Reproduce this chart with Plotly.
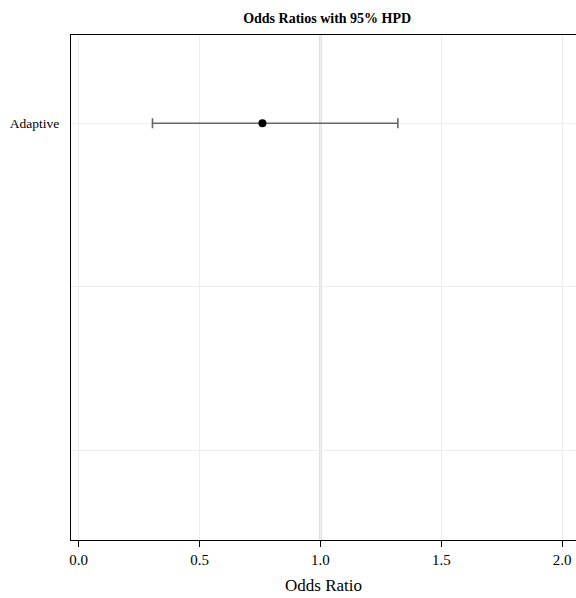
import plotly.graph_objects as go

# Data
categories = ["Adaptive"]
y_positions = [3]
odds_ratio = [0.76]
hpd_lower = [0.305]
hpd_upper = [1.32]
reference_value = 1.0
y_tick_positions = [1, 2, 3]
y_tick_labels = ["", "", "Adaptive"]
x_tick_values = [0.0, 0.5, 1.0, 1.5, 2.0]
x_tick_labels = ["0.0", "0.5", "1.0", "1.5", "2.0"]

FONT = "Liberation Serif, Times New Roman, serif"

fig = go.Figure()

fig.add_trace(go.Scatter(
    x=odds_ratio,
    y=y_positions,
    mode="markers",
    marker=dict(color="black", size=8),
    error_x=dict(
        type="data",
        symmetric=False,
        array=[u - m for u, m in zip(hpd_upper, odds_ratio)],
        arrayminus=[m - l for m, l in zip(odds_ratio, hpd_lower)],
        color="#666666",
        thickness=1.6,
        width=5,
    ),
    text=categories,
    showlegend=False,
))

fig.add_shape(
    type="line", xref="x", yref="paper",
    x0=reference_value, x1=reference_value, y0=0, y1=1,
    line=dict(color="#c4c4c4", width=2),
    layer="below",
)

fig.update_layout(
    width=576, height=598,
    margin=dict(l=71, r=0, t=35, b=58),
    paper_bgcolor="white",
    plot_bgcolor="white",
    font=dict(family=FONT, color="black"),
    title=dict(
        text="<b>Odds Ratios with 95% HPD</b>",
        font=dict(family=FONT, size=14, color="black"),
        x=0.568, xanchor="center", y=0.97, yanchor="middle",
    ),
    xaxis=dict(
        range=[-0.032, 2.057],
        tickvals=x_tick_values,
        ticktext=x_tick_labels,
        showgrid=True, gridcolor="#ededed", gridwidth=1,
        zeroline=False,
        showline=True, linecolor="black", linewidth=1.2,
        mirror=True,
        ticks="outside", ticklen=6, tickcolor="black", tickwidth=1,
        tickfont=dict(family=FONT, size=15, color="black"),
        title=dict(text="Odds Ratio", font=dict(family=FONT, size=17, color="black"), standoff=12),
    ),
    yaxis=dict(
        range=[0.45, 3.54],
        tickvals=y_tick_positions,
        ticktext=y_tick_labels,
        showgrid=True, gridcolor="#ededed", gridwidth=1,
        zeroline=False,
        showline=True, linecolor="black", linewidth=1.2,
        mirror=True,
        ticks="", ticklabelstandoff=8,
        tickfont=dict(family=FONT, size=13.5, color="black"),
    ),
)

fig.write_html(
    "out.html",
    config={"displayModeBar": False},
    post_script="document.body.style.margin='0';document.body.style.overflow='hidden';",
)
